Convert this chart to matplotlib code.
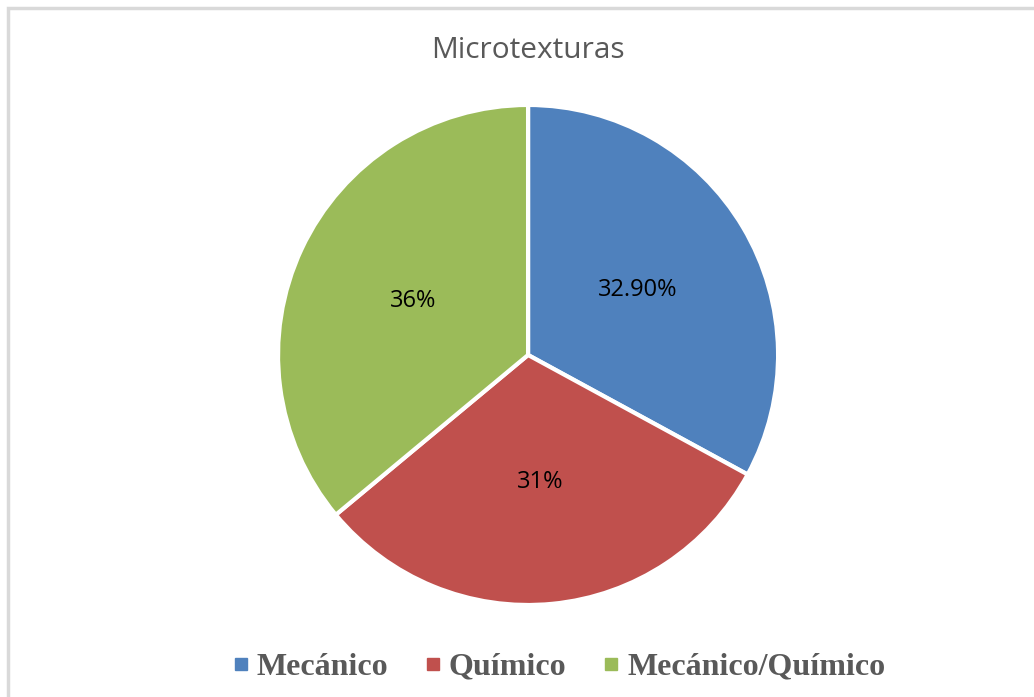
import matplotlib.pyplot as plt
from matplotlib.lines import Line2D
from matplotlib.patches import Rectangle

# Data
categories = ['Mecánico', 'Químico', 'Mecánico/Químico']
values = [32.9, 31, 36]
pct_labels = ['32.90%', '31%', '36%']
colors = ['#4F81BD', '#C0504D', '#9BBB59']

fig = plt.figure(figsize=(10.34, 6.97), dpi=100)

# light gray chart border (runs off the right/bottom edge)
fig.patches.append(Rectangle((7.5 / 1034, -0.05), 1.2, 1 - 7.5 / 697 + 0.05,
                             transform=fig.transFigure, fill=False,
                             edgecolor='#D9D9D9', linewidth=2.5))

ax = fig.add_axes([0.2689, 0.1320, 0.4836, 0.7174])

it = iter(pct_labels)
wedges, texts, autotexts = ax.pie(values, colors=colors, startangle=90, counterclock=False,
                                  autopct=lambda p: next(it), pctdistance=0.51,
                                  wedgeprops=dict(edgecolor='white', linewidth=3))
for t in autotexts:
    t.set_fontsize(17)
    t.set_fontfamily('Open Sans')
    t.set_color('black')
ax.set_xlim(-1, 1)
ax.set_ylim(-1, 1)
ax.set_aspect('equal')

fig.text(0.5106, 1 - 51 / 697, 'Microtexturas', ha='center', va='center',
         fontsize=21.5, color='#595959', family='Open Sans')

handles = [Line2D([], [], marker='s', linestyle='', markersize=9, color=c) for c in colors]
fig.legend(handles, categories, loc='center', bbox_to_anchor=(559 / 1034, 1 - 667 / 697),
           ncol=3, frameon=False, handlelength=0.5, handletextpad=0.25, columnspacing=1.15,
           prop={'family': 'Liberation Serif', 'weight': 'bold', 'size': 23},
           labelcolor='#595959')

plt.savefig('out.png', dpi=100)
